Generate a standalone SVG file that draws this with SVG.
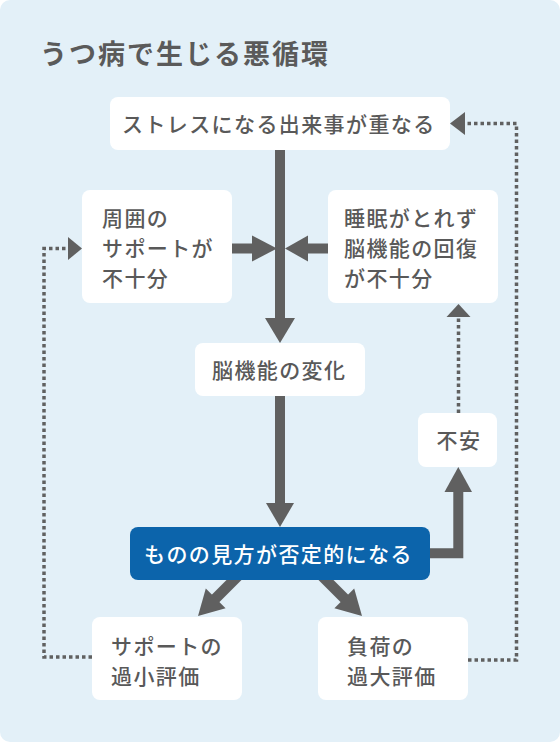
<svg xmlns="http://www.w3.org/2000/svg" width="560" height="742" viewBox="0 0 560 742">
<style>
.box{fill:#ffffff}
.t{font-family:"Noto Sans CJK JP","Noto Sans CJK SC",sans-serif;font-size:21px;letter-spacing:1.4px;fill:#595959;font-weight:500}
.title{font-family:"Noto Sans CJK JP","Noto Sans CJK SC",sans-serif;font-size:27px;letter-spacing:2px;fill:#5a5a5a;font-weight:700}
.sh{fill:none;stroke:#606060;stroke-width:10;stroke-linejoin:miter}
.hd{fill:#606060}
.dot{fill:none;stroke:#606060;stroke-width:3.5;stroke-dasharray:3.5 3}
</style>
<rect x="0" y="0" width="560" height="742" fill="#ffffff"/>
<rect x="0" y="0" width="560" height="742" rx="10" fill="#e3f0f8"/>
<text class="title" x="40" y="64.3">うつ病で生じる悪循環</text>

<g id="connectors">
  <path class="sh" d="M280,150 V320"/>
  <polygon class="hd" points="265,318 295,318 280,343"/>
  <path class="sh" d="M232,248.5 H254"/>
  <polygon class="hd" points="252,235.5 252,261.5 277,248.5"/>
  <path class="sh" d="M328,248.5 H306"/>
  <polygon class="hd" points="308,235.5 308,261.5 285,248.5"/>
  <path class="sh" d="M280,396 V506"/>
  <polygon class="hd" points="266,503 294,503 280,527"/>
  <path class="sh" d="M430,553.3 H458.3 V490"/>
  <polygon class="hd" points="444.5,492 472,492 458.3,467"/>
  <path class="sh" style="stroke-width:10.6" d="M238,576 L214,600"/>
  <polygon class="hd" points="225.6,608.2 205.8,588.4 198,616"/>
  <path class="sh" style="stroke-width:10.6" d="M322,576 L346,600"/>
  <polygon class="hd" points="354.2,588.4 334.4,608.2 362,616"/>
  <path class="dot" d="M92,657 H44 V248.5 H68"/>
  <polygon class="hd" points="68,237 68,260 82,248.5"/>
  <path class="dot" d="M468,660 H516.5 V123.5 H465"/>
  <polygon class="hd" points="465,112 465,135 450,123.5"/>
  <path class="dot" d="M458.5,413 V316"/>
  <polygon class="hd" points="446.5,317 470.5,317 458.5,304"/>
</g>

<g id="node-stress">
  <rect class="box" x="110" y="97" width="340" height="53" rx="8"/>
  <text class="t" x="122" y="132">ストレスになる出来事が重なる</text>
</g>
<g id="node-support">
  <rect class="box" x="82" y="190" width="150" height="113" rx="8"/>
  <text class="t" x="102" y="226">周囲の</text>
  <text class="t" x="102" y="256">サポートが</text>
  <text class="t" x="102" y="286">不十分</text>
</g>
<g id="node-sleep">
  <rect class="box" x="328" y="190" width="170" height="113" rx="8"/>
  <text class="t" x="344" y="226">睡眠がとれず</text>
  <text class="t" x="344" y="256">脳機能の回復</text>
  <text class="t" x="344" y="286">が不十分</text>
</g>
<g id="node-brain">
  <rect class="box" x="195" y="343" width="170" height="53" rx="8"/>
  <text class="t" x="212" y="378">脳機能の変化</text>
</g>
<g id="node-anxiety">
  <rect class="box" x="418" y="413" width="79" height="54" rx="8"/>
  <text class="t" x="436.5" y="448">不安</text>
</g>
<g id="node-negative">
  <rect x="130" y="527" width="300" height="53" rx="8" fill="#0c64ab"/>
  <text class="t" x="144" y="562" style="fill:#ffffff">ものの見方が否定的になる</text>
</g>
<g id="node-under">
  <rect class="box" x="92" y="617" width="150" height="83" rx="8"/>
  <text class="t" x="111" y="654">サポートの</text>
  <text class="t" x="111" y="684">過小評価</text>
</g>
<g id="node-over">
  <rect class="box" x="318" y="617" width="150" height="83" rx="8"/>
  <text class="t" x="347" y="654">負荷の</text>
  <text class="t" x="347" y="684">過大評価</text>
</g>
</svg>
